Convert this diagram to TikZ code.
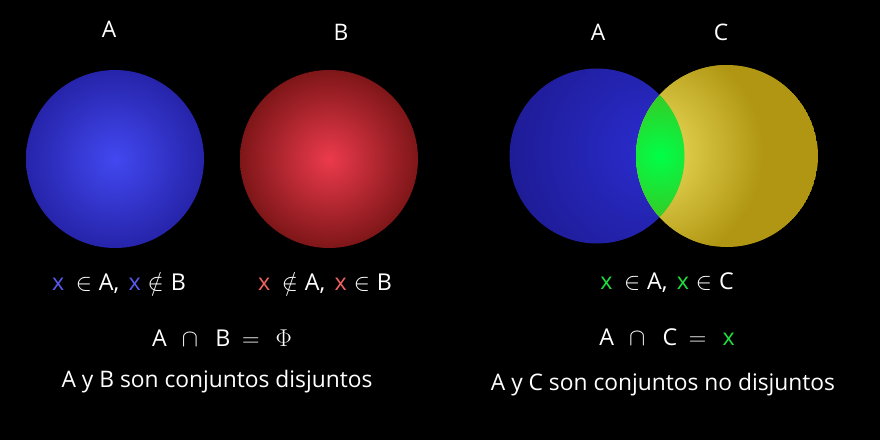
\documentclass[tikz,border=0pt]{standalone}
\usepackage{fontspec}
\setmainfont{Open Sans}
\usepackage{xcolor}
\usetikzlibrary{positioning}
\definecolor{xblue}{HTML}{5A5AF0}
\definecolor{xred}{HTML}{F06262}
\definecolor{xgreen}{HTML}{20E040}
\definecolor{ocre}{RGB}{176,150,18}
\newcommand{\gap}[1]{\hspace{#1em}}

\begin{document}
\begin{tikzpicture}[
  x=0.025cm,
  y=-0.025cm,
  lbl/.style={text=white, font=\fontsize{16.2}{19}\selectfont, inner sep=0pt},
  rel/.style={text=white, font=\fontsize{16.5}{19}\selectfont, inner sep=0pt},
  every node/.style={anchor=center}
]
\fill[black] (0,0) rectangle (880,440);
\useasboundingbox (0,0) rectangle (880,440);

% disjuntos
\node[lbl] (tA) at (109,29) {A};
\node[lbl] (tB) at (341,32) {B};
\shade[inner color={rgb,255:red,66;green,72;blue,240}, outer color={rgb,255:red,38;green,36;blue,170}] (115,159) circle (89);
\shade[inner color={rgb,255:red,236;green,58;blue,76}, outer color={rgb,255:red,126;green,22;blue,24}] (329,159) circle (89);
\node[rel] (relA) at (119,283) {\textcolor{xblue}{x}\gap{0.5}$\in$\gap{0.3}A,\gap{0.4}\textcolor{xblue}{x}\gap{0.3}$\notin$\gap{0.3}B};
\node[rel] (relB) at (325,283) {\textcolor{xred}{x}\gap{0.5}$\notin$\gap{0.3}A,\gap{0.4}\textcolor{xred}{x}\gap{0.3}$\in$\gap{0.3}B};
\node[rel] (capAB) at (222,338) {A\gap{0.65}$\cap$\gap{0.75}B\gap{0.5}$=$\gap{0.7}{\fontsize{18}{20}\selectfont$\Phi$}};
\node[lbl] (dis) at (217,382) {A y B son conjuntos disjuntos};

% no disjuntos
\node[lbl] (tA2) at (598,32) {A};
\node[lbl] (tC) at (721,32) {C};
\begin{scope}
  \clip (597,156) circle (87.5);
  \shade[inner color={rgb,255:red,42;green,44;blue,206}, outer color={rgb,255:red,26;green,22;blue,130}] (650,150) circle (190);
\end{scope}
\begin{scope}
  \clip (727,156) circle (91);
  \fill[ocre] (727,156) circle (91);
  \shade[inner color={rgb,255:red,240;green,226;blue,96}, outer color=ocre] (648,152) circle (115);
\end{scope}
\begin{scope}
  \clip (597,156) circle (87.5);
  \clip (727,156) circle (91);
  \shade[inner color={rgb,255:red,0;green,255;blue,72}, outer color={rgb,255:red,60;green,196;blue,32}] (660,156) circle (70);
\end{scope}
\node[rel] (relAC) at (667,283) {\textcolor{xgreen}{x}\gap{0.5}$\in$\gap{0.3}A,\gap{0.4}\textcolor{xgreen}{x}\gap{0.3}$\in$\gap{0.3}C};
\node[rel] (capAC) at (667,337) {A\gap{0.65}$\cap$\gap{0.75}C\gap{0.5}$=$\gap{0.7}\textcolor{xgreen}{x}};
\node[lbl] (nodis) at (663,385) {A y C son conjuntos no disjuntos};
\end{tikzpicture}
\end{document}
